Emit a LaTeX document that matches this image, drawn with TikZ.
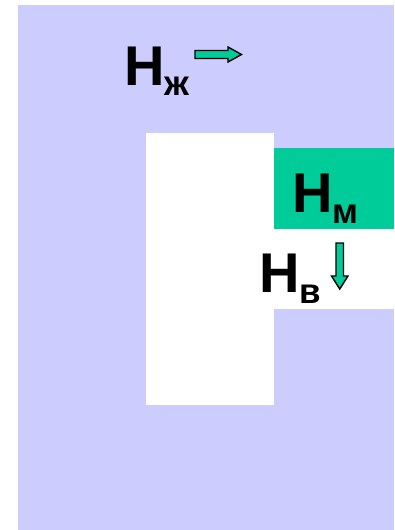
\documentclass[tikz,border=0pt]{standalone}
\usepackage{fontspec}
\setmainfont{Liberation Sans}
\usetikzlibrary{positioning}

\definecolor{lav}{HTML}{CCCCFF}
\definecolor{mint}{HTML}{00CC99}
\newcommand{\bigfont}{\fontsize{56}{56}\selectfont\bfseries}
\newcommand{\subfont}{\fontsize{35}{35}\selectfont\bfseries}

\begin{document}
\begin{tikzpicture}[x=1pt,y=-1pt,
    label/.style={anchor=base west,inner sep=0pt},
    blockarrow/.style={draw=black,line width=1.4pt,fill=mint,line join=miter}]
    \useasboundingbox (0,0) rectangle (394,530);
    % background and regions
    \fill[lav] (18,5) rectangle (394,530);
    \fill[white] (146,133) rectangle (274,405);
    \fill[mint] (274,148) rectangle (394,229);
    \fill[white] (274,229) rectangle (394,309);
    % labels
    \node[label] (hzh) at (124,85) {\bigfont H\raisebox{-10pt}{\subfont ж}};
    \node[label] (hm) at (292,212) {\bigfont H\raisebox{-11pt}{\subfont м}};
    \node[label] (hv) at (259,292) {\bigfont H\raisebox{-11pt}{\subfont в}};
    % arrows
    \draw[blockarrow] (195,50.5) -- (228,50.5) -- (228,47) -- (241.5,54.5)
        -- (228,62) -- (228,58.5) -- (195,58.5) -- cycle;
    \draw[blockarrow] (336,243) -- (343.5,243) -- (343.5,276) -- (348,276)
        -- (339.75,289) -- (331.5,276) -- (336,276) -- cycle;
\end{tikzpicture}
\end{document}
